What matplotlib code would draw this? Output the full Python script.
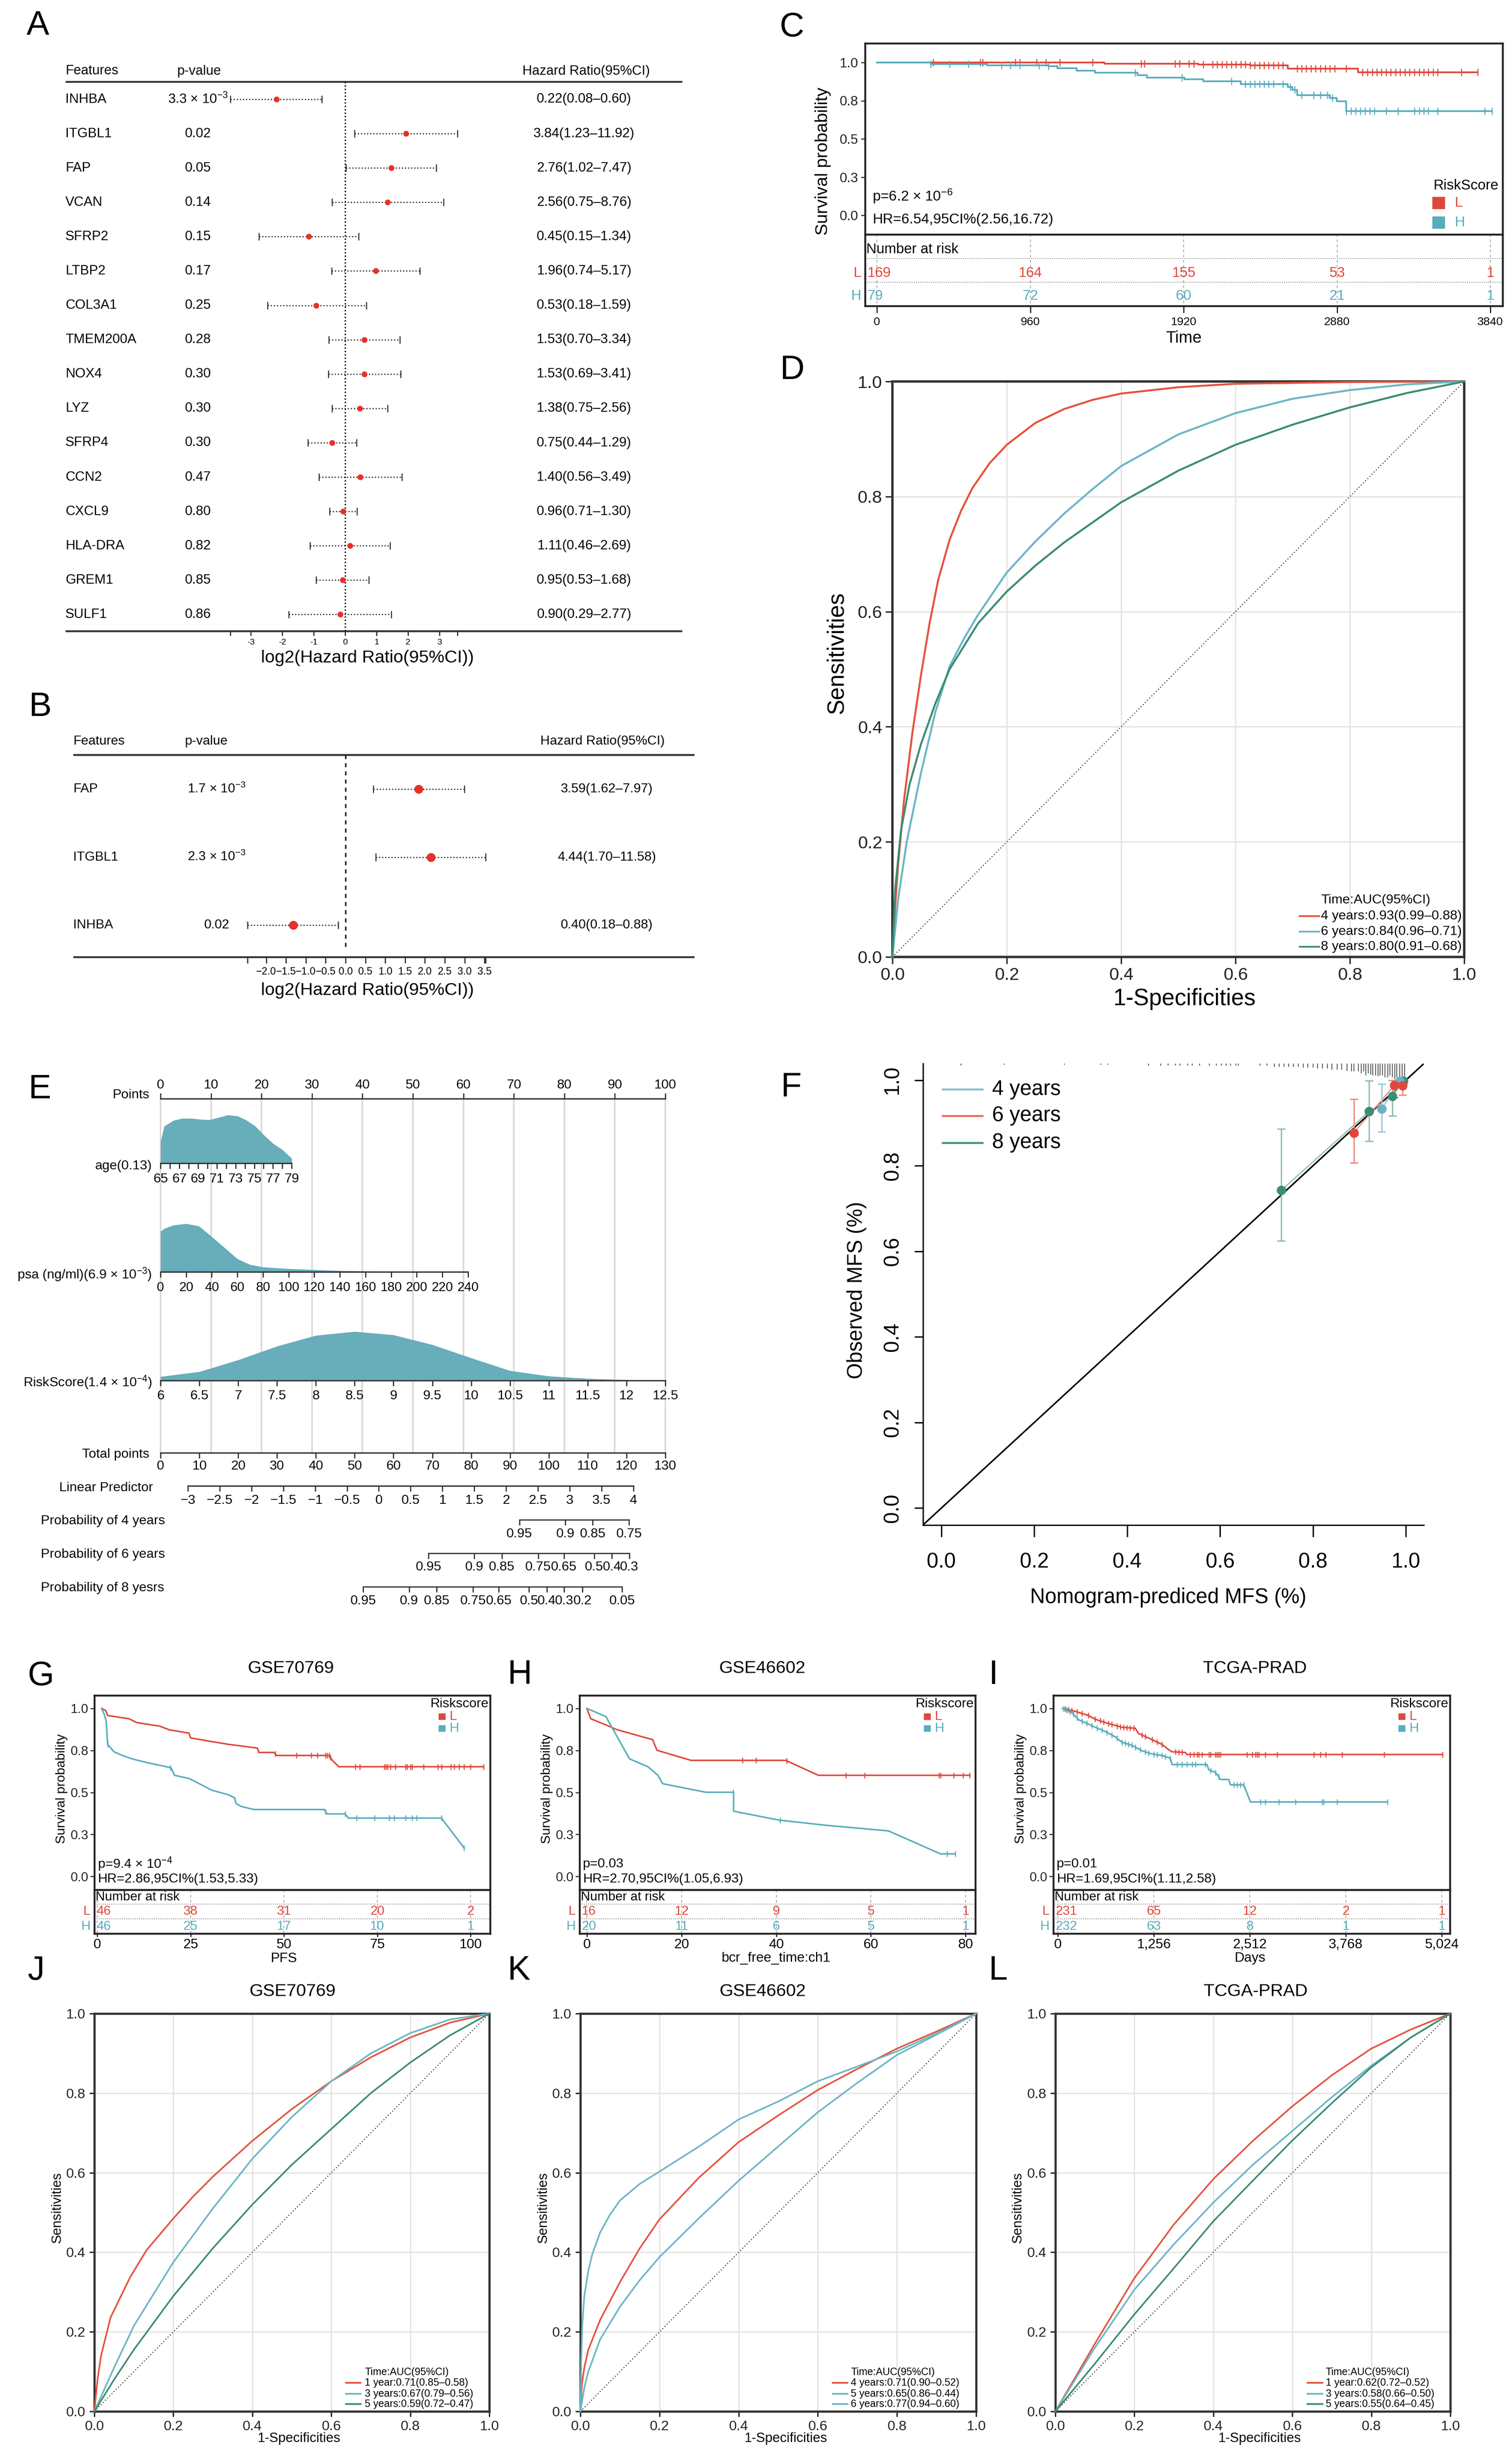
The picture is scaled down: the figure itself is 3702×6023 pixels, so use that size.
import numpy as np
import matplotlib
matplotlib.use("Agg")
import matplotlib.pyplot as plt
from matplotlib.patches import Rectangle
from matplotlib.lines import Line2D

W, H, DPI = 3702, 6023, 300

plt.rcParams["font.family"] = ["Liberation Sans", "DejaVu Sans"]
plt.rcParams["mathtext.fontset"] = "custom"
plt.rcParams["mathtext.rm"] = "Liberation Sans"
plt.rcParams["mathtext.it"] = "Liberation Sans:italic"
plt.rcParams["mathtext.bf"] = "Liberation Sans:bold"

RED = "#E0473C"
TEAL = "#58ADBD"
ROC_RED = "#E5533F"
ROC_BLUE = "#6BB6C6"
ROC_GREEN = "#3B8C73"
DOT_RED = "#E8302B"
DENS = "#67ADBA"
DARK = "#333333"

# ---------------- A: univariate cox ----------------
genes_a = ["INHBA", "ITGBL1", "FAP", "VCAN", "SFRP2", "LTBP2", "COL3A1", "TMEM200A",
           "NOX4", "LYZ", "SFRP4", "CCN2", "CXCL9", "HLA-DRA", "GREM1", "SULF1"]
pval_a = ["3.3 $\\times$ 10$^{-3}$", "0.02", "0.05", "0.14", "0.15", "0.17", "0.25", "0.28",
          "0.30", "0.30", "0.30", "0.47", "0.80", "0.82", "0.85", "0.86"]
hr_a = [0.22, 3.84, 2.76, 2.56, 0.45, 1.96, 0.53, 1.53, 1.53, 1.38, 0.75, 1.40, 0.96, 1.11, 0.95, 0.90]
lo_a = [0.08, 1.23, 1.02, 0.75, 0.15, 0.74, 0.18, 0.70, 0.69, 0.75, 0.44, 0.56, 0.71, 0.46, 0.53, 0.29]
hi_a = [0.60, 11.92, 7.47, 8.76, 1.34, 5.17, 1.59, 3.34, 3.41, 2.56, 1.29, 3.49, 1.30, 2.69, 1.68, 2.77]
ticks_a = [-3, -2, -1, 0, 1, 2, 3]

# ---------------- B: multivariate cox ----------------
genes_b = ["FAP", "ITGBL1", "INHBA"]
pval_b = ["1.7 $\\times$ 10$^{-3}$", "2.3 $\\times$ 10$^{-3}$", "0.02"]
hr_b = [3.59, 4.44, 0.40]
lo_b = [1.62, 1.70, 0.18]
hi_b = [7.97, 11.58, 0.88]
ticks_b = [-2.0, -1.5, -1.0, -0.5, 0.0, 0.5, 1.0, 1.5, 2.0, 2.5, 3.0, 3.5]

# ---------------- C: KM training set ----------------
c_L_t = [0, 1425, 2013, 2336, 2571, 3012]
c_L_s = [1.0, 0.993, 0.986, 0.980, 0.959, 0.936]
c_L_cens = [353, 646, 661, 867, 896, 999, 1058, 1146, 1351, 1654, 1675, 1866, 1895, 1954, 1983,
            2042, 2101, 2130, 2160, 2189, 2218, 2248, 2277, 2306, 2336, 2365, 2395, 2424, 2453,
            2483, 2512, 2541, 2630, 2659, 2688, 2718, 2747, 2776, 2806, 2835, 2865, 2938, 3041,
            3070, 3100, 3129, 3158, 3188, 3217, 3246, 3276, 3305, 3335, 3364, 3394, 3423, 3452,
            3482, 3511, 3658, 3761]
c_H_t = [0, 338, 690, 1073, 1131, 1249, 1366, 1631, 1689, 1924, 2042, 2277, 2571, 2600, 2630,
         2835, 2879, 2938]
c_H_s = [1.0, 0.990, 0.982, 0.975, 0.962, 0.947, 0.932, 0.918, 0.902, 0.891, 0.877, 0.859, 0.840,
         0.820, 0.785, 0.768, 0.747, 0.683]
c_H_cens = [338, 455, 573, 779, 837, 896, 1014, 1073, 1616, 1910, 2218, 2306, 2336, 2365, 2395,
            2424, 2453, 2483, 2541, 2586, 2615, 2659, 2733, 2776, 2820, 2850, 2938, 2968, 2997,
            3026, 3056, 3085, 3115, 3188, 3261, 3364, 3394, 3423, 3452, 3511, 3805, 3849]
c_times = [0, 960, 1920, 2880, 3840]
c_risk_L = [169, 164, 155, 53, 1]
c_risk_H = [79, 72, 60, 21, 1]

# ---------------- D: time ROC ----------------
d_fpr_4 = [0, 0.005, 0.01, 0.02, 0.035, 0.05, 0.065, 0.08, 0.1, 0.12, 0.14, 0.17, 0.2, 0.25,
           0.3, 0.35, 0.4, 0.5, 0.6, 0.8, 1.0]
d_tpr_4 = [0, 0.09, 0.16, 0.27, 0.39, 0.49, 0.58, 0.655, 0.725, 0.775, 0.815, 0.858, 0.89,
           0.928, 0.952, 0.968, 0.979, 0.99, 0.996, 0.999, 1.0]
d_fpr_6 = [0, 0.01, 0.025, 0.05, 0.075, 0.1, 0.125, 0.15, 0.2, 0.25, 0.3, 0.35, 0.4, 0.5, 0.6,
           0.7, 0.8, 0.9, 1.0]
d_tpr_6 = [0, 0.1, 0.2, 0.32, 0.425, 0.505, 0.553, 0.595, 0.668, 0.722, 0.77, 0.813, 0.853,
           0.908, 0.945, 0.97, 0.985, 0.995, 1.0]
d_fpr_8 = [0, 0.005, 0.015, 0.03, 0.05, 0.075, 0.1, 0.15, 0.2, 0.25, 0.3, 0.4, 0.5, 0.6, 0.7,
           0.8, 0.9, 1.0]
d_tpr_8 = [0, 0.12, 0.22, 0.3, 0.37, 0.44, 0.5, 0.58, 0.635, 0.68, 0.72, 0.79, 0.845, 0.89,
           0.925, 0.955, 0.98, 1.0]
d_labels = ["4 years:0.93(0.99\u20130.88)", "6 years:0.84(0.96\u20130.71)", "8 years:0.80(0.91\u20130.68)"]

# ---------------- E: nomogram ----------------
points_ticks = [0, 10, 20, 30, 40, 50, 60, 70, 80, 90, 100]
age_ticks = [65, 66, 67, 68, 69, 70, 71, 72, 73, 74, 75, 76, 77, 78, 79]
age_labels = [65, 67, 69, 71, 73, 75, 77, 79]
age_vals = [65.0, 65.4, 66.4, 67.3, 68.3, 69.3, 70.2, 71.2, 72.2, 73.2, 74.1, 75.1, 76.1, 77.0, 78.0, 79.0]
age_dens = [0.45, 0.77, 0.89, 0.93, 0.93, 0.91, 0.90, 0.95, 1.0, 0.98, 0.90, 0.77, 0.57, 0.41, 0.28, 0.10]
psa_ticks = [0, 20, 40, 60, 80, 100, 120, 140, 160, 180, 200, 220, 240]
psa_vals = [0, 3, 10, 20, 30, 40, 50, 60, 70, 80, 100, 120, 140, 160, 200, 240]
psa_dens = [0.84, 0.9, 0.97, 1.0, 0.95, 0.73, 0.5, 0.27, 0.15, 0.1, 0.065, 0.045, 0.025, 0.015, 0.005, 0.0]
rs_ticks = [6, 6.5, 7, 7.5, 8, 8.5, 9, 9.5, 10, 10.5, 11, 11.5, 12, 12.5]
rs_vals = [6.0, 6.5, 7.0, 7.5, 8.0, 8.5, 9.0, 9.5, 10.0, 10.5, 11.0, 11.5, 12.0, 12.5]
rs_dens = [0.08, 0.18, 0.42, 0.70, 0.92, 1.0, 0.93, 0.73, 0.46, 0.2, 0.09, 0.04, 0.015, 0.0]
total_ticks = [0, 10, 20, 30, 40, 50, 60, 70, 80, 90, 100, 110, 120, 130]
lp_ticks = [-3, -2.5, -2, -1.5, -1, -0.5, 0, 0.5, 1, 1.5, 2, 2.5, 3, 3.5, 4]
prob4_ticks = [0.95, 0.9, 0.85, 0.75]
prob6_ticks = [0.95, 0.9, 0.85, 0.75, 0.65, 0.5, 0.4, 0.3]
prob8_ticks = [0.95, 0.9, 0.85, 0.75, 0.65, 0.5, 0.4, 0.3, 0.2, 0.05]
base_loglog = {4: -5.18, 6: -3.75, 8: -2.726}

# ---------------- F: calibration ----------------
cal_groups = ["4 years", "6 years", "8 years"]
cal_pred = [[0.948, 0.987], [0.888, 0.975, 0.993], [0.732, 0.921, 0.971, 0.995]]
cal_obs = [[0.933, 0.998], [0.877, 0.988, 0.987], [0.743, 0.927, 0.963, 0.998]]
cal_lo = [[0.880, 0.990], [0.807, 0.960, 0.965], [0.625, 0.858, 0.917, 0.990]]
cal_hi = [[0.991, 1.0], [0.956, 1.0, 1.0], [0.886, 0.999, 1.0, 1.0]]
rug_x = [0.042, 0.135, 0.265, 0.343, 0.358, 0.446, 0.472, 0.488, 0.504, 0.514, 0.530, 0.540,
         0.556, 0.577, 0.592, 0.603, 0.613, 0.623, 0.634, 0.639, 0.686, 0.701, 0.717, 0.727,
         0.738, 0.748, 0.758, 0.769, 0.779, 0.789, 0.800, 0.810, 0.821, 0.831, 0.841, 0.852,
         0.862, 0.873, 0.883, 0.888, 0.898, 0.904, 0.909, 0.914, 0.919, 0.924, 0.929, 0.935,
         0.940, 0.945, 0.950, 0.955, 0.961, 0.966, 0.971, 0.976, 0.981, 0.987, 0.992, 0.997]
rug_h = [5, 3, 3, 3, 3, 5, 5, 5, 5, 5, 5, 5, 5, 5, 5, 5, 5, 5, 5, 5, 5, 5, 8, 8, 8, 8, 8, 8,
         10, 10, 10, 12, 12, 12, 15, 15, 15, 18, 19, 19, 19, 24, 19, 29, 24, 27, 29, 29, 31, 29,
         29, 34, 34, 29, 34, 38, 34, 38, 43, 48]

# ---------------- G/H/I: validation KM ----------------
g_L_x = [1.2, 2.3, 2.8, 8.5, 10.6, 16.7, 19.3, 24.6, 25.0, 29.8, 35.0, 42.9, 43.3, 47.3, 48.1,
         62.1, 63.0, 64.7, 103.5]
g_L_y = [1.0, 0.987, 0.958, 0.939, 0.916, 0.895, 0.873, 0.853, 0.825, 0.806, 0.787, 0.764, 0.738,
         0.738, 0.720, 0.720, 0.691, 0.653, 0.653]
g_L_cens = [47.7, 53.4, 57.3, 59.0, 61.2, 61.6, 62.1, 62.5, 69.1, 70.4, 76.9, 77.3, 77.8, 78.6,
            79.9, 82.6, 83.0, 83.9, 84.3, 87.4, 91.3, 92.2, 94.8, 95.6, 96.9, 98.3, 100.0, 103.5]
g_H_x = [1.2, 1.9, 2.4, 2.8, 4.5, 7.2, 9.8, 14.1, 19.4, 19.8, 20.7, 24.6, 26.3, 30.7, 35.0, 36.8,
         37.2, 38.5, 42.0, 60.8, 61.6, 66.4, 67.3, 92.2, 98.3]
g_H_y = [1.0, 0.964, 0.926, 0.786, 0.742, 0.716, 0.697, 0.674, 0.649, 0.646, 0.602, 0.583, 0.564,
         0.513, 0.487, 0.468, 0.434, 0.417, 0.398, 0.398, 0.372, 0.372, 0.347, 0.347, 0.169]
g_H_cens = [2.8, 19.6, 61.2, 66.4, 69.5, 74.3, 78.2, 79.5, 82.6, 84.3, 85.6, 92.2, 98.3]
g_times = [0, 25, 50, 75, 100]
g_risk_L = [46, 38, 31, 20, 2]
g_risk_H = [46, 25, 17, 10, 1]

h_L_x = [0, 0.8, 4.1, 6.2, 13.9, 14.8, 22.0, 42.0, 48.9, 80.9]
h_L_y = [1.0, 0.939, 0.901, 0.875, 0.814, 0.751, 0.691, 0.691, 0.602, 0.602]
h_L_cens = [32.9, 35.7, 42.2, 54.7, 58.7, 74.4, 74.7, 77.5, 79.5, 80.9]
h_H_x = [0, 4.0, 9.0, 12.9, 15.0, 16.0, 25.1, 31.0, 31.0, 40.6, 50.9, 63.7, 74.7, 77.8]
h_H_y = [1.0, 0.952, 0.700, 0.653, 0.602, 0.552, 0.501, 0.501, 0.388, 0.335, 0.303, 0.271, 0.134, 0.134]
h_H_cens = [30.9, 40.8, 76.1, 77.8]
h_times = [0, 20, 40, 60, 80]
h_risk_L = [16, 12, 9, 5, 1]
h_risk_H = [20, 11, 6, 5, 1]

i_L_x = [61, 227, 402, 489, 620, 839, 1014, 1057, 1188, 1276, 1363, 1451, 1494, 1669, 1691, 5033]
i_L_y = [1.0, 0.983, 0.958, 0.936, 0.916, 0.888, 0.882, 0.850, 0.824, 0.805, 0.786, 0.754, 0.742,
         0.738, 0.726, 0.726]
i_L_cens = [96, 140, 183, 249, 315, 402, 489, 555, 598, 664, 708, 773, 817, 861, 904, 948, 992,
            1101, 1145, 1232, 1297, 1363, 1538, 1581, 1625, 1734, 1778, 1822, 1844, 1887, 1975,
            1997, 2062, 2084, 2106, 2128, 2477, 2543, 2586, 2608, 2630, 2717, 2870, 3351, 3438,
            3504, 3722, 4268, 5033]
i_H_x = [61, 183, 271, 402, 489, 620, 751, 839, 970, 1101, 1232, 1363, 1472, 1494, 1953, 1975,
         2062, 2106, 2128, 2237, 2259, 2433, 2477, 2521, 4312]
i_H_y = [1.0, 0.977, 0.933, 0.907, 0.888, 0.863, 0.831, 0.799, 0.780, 0.748, 0.729, 0.720, 0.704,
         0.666, 0.666, 0.634, 0.619, 0.593, 0.577, 0.577, 0.545, 0.545, 0.494, 0.443, 0.443]
i_H_cens = [74, 118, 162, 205, 249, 315, 380, 446, 511, 577, 642, 708, 773, 839, 882, 926, 970,
            1014, 1079, 1145, 1188, 1254, 1297, 1363, 1407, 1472, 1560, 1625, 1691, 1756, 1800,
            1931, 1997, 2062, 2106, 2302, 2346, 2390, 2433, 2652, 2717, 2892, 3111, 3460, 3482,
            3657, 4312]
i_times = [0, 1256, 2512, 3768, 5024]
i_time_labels = ["0", "1,256", "2,512", "3,768", "5,024"]
i_risk_L = [231, 65, 12, 2, 1]
i_risk_H = [232, 63, 8, 1, 1]

# ---------------- J/K/L: validation ROC ----------------
j_fpr_1 = [0, 0.008, 0.017, 0.041, 0.091, 0.132, 0.2, 0.25, 0.3, 0.4, 0.5, 0.6, 0.7, 0.8, 0.9, 1.0]
j_tpr_1 = [0, 0.08, 0.14, 0.236, 0.338, 0.405, 0.485, 0.54, 0.59, 0.68, 0.76, 0.83, 0.89, 0.94, 0.977, 1.0]
j_fpr_3 = [0, 0.05, 0.1, 0.2, 0.3, 0.4, 0.5, 0.6, 0.7, 0.8, 0.9, 1.0]
j_tpr_3 = [0, 0.11, 0.215, 0.375, 0.51, 0.635, 0.74, 0.83, 0.9, 0.951, 0.985, 1.0]
j_fpr_5 = [0, 0.05, 0.1, 0.2, 0.3, 0.4, 0.5, 0.6, 0.7, 0.8, 0.9, 1.0]
j_tpr_5 = [0, 0.08, 0.155, 0.29, 0.41, 0.52, 0.62, 0.71, 0.80, 0.877, 0.945, 1.0]
j_labels = ["1 year:0.71(0.85\u20130.58)", "3 years:0.67(0.79\u20130.56)", "5 years:0.59(0.72\u20130.47)"]

k_fpr_4 = [0, 0.004, 0.01, 0.02, 0.05, 0.1, 0.15, 0.2, 0.3, 0.4, 0.5, 0.6, 0.7, 0.8, 0.9, 1.0]
k_tpr_4 = [0, 0.07, 0.11, 0.155, 0.23, 0.325, 0.41, 0.483, 0.588, 0.677, 0.744, 0.808, 0.861, 0.912, 0.955, 1.0]
k_fpr_5 = [0, 0.01, 0.02, 0.05, 0.1, 0.15, 0.2, 0.3, 0.4, 0.5, 0.6, 0.7, 0.8, 0.9, 1.0]
k_tpr_5 = [0, 0.06, 0.1, 0.181, 0.263, 0.33, 0.388, 0.486, 0.58, 0.666, 0.752, 0.826, 0.896, 0.947, 1.0]
k_fpr_6 = [0, 0.002, 0.005, 0.01, 0.02, 0.03, 0.05, 0.075, 0.1, 0.15, 0.2, 0.3, 0.4, 0.5, 0.6, 0.7,
           0.8, 0.9, 1.0]
k_tpr_6 = [0, 0.12, 0.22, 0.29, 0.353, 0.395, 0.45, 0.495, 0.53, 0.572, 0.603, 0.666, 0.734, 0.779,
           0.83, 0.867, 0.905, 0.95, 1.0]
k_labels = ["4 years:0.71(0.90\u20130.52)", "5 years:0.65(0.86\u20130.44)", "6 years:0.77(0.94\u20130.60)"]

l_fpr = [0, 0.1, 0.2, 0.3, 0.4, 0.5, 0.6, 0.7, 0.8, 0.9, 1.0]
l_tpr_1 = [0, 0.17, 0.335, 0.47, 0.584, 0.68, 0.767, 0.845, 0.912, 0.96, 1.0]
l_tpr_3 = [0, 0.16, 0.306, 0.42, 0.525, 0.62, 0.705, 0.79, 0.869, 0.94, 1.0]
l_tpr_5 = [0, 0.12, 0.244, 0.36, 0.478, 0.58, 0.681, 0.775, 0.865, 0.94, 1.0]
l_labels = ["1 year:0.62(0.72\u20130.52)", "3 years:0.58(0.66\u20130.50)", "5 years:0.55(0.64\u20130.45)"]


fig = plt.figure(figsize=(W / DPI, H / DPI), dpi=DPI)


def add_ax(x0, y0, x1, y1):
    return fig.add_axes([x0 / W, 1 - y1 / H, (x1 - x0) / W, (y1 - y0) / H])


def ftext(x, y, s, **kw):
    kw.setdefault("va", "center")
    fig.text(x / W, 1 - y / H, s, **kw)


def frect(x0, y0, x1, y1, color):
    fig.add_artist(Rectangle((x0 / W, 1 - y1 / H), (x1 - x0) / W, (y1 - y0) / H,
                             transform=fig.transFigure, facecolor=color, edgecolor="none"))


def fline(x0, x1, y, color, lw):
    fig.add_artist(Line2D([x0 / W, x1 / W], [1 - y / H] * 2, transform=fig.transFigure,
                          color=color, lw=lw))


# panel letters
for s, x, y in [("A", 65, 63), ("B", 70, 1731), ("C", 1909, 67), ("D", 1909, 906),
                ("E", 69, 2667), ("F", 1911, 2662), ("G", 68, 4104), ("H", 1242, 4101),
                ("I", 2420, 4101), ("J", 68, 4825), ("K", 1242, 4825), ("L", 2420, 4825)]:
    ftext(x, y, s, fontsize=20, ha="left")


# ================= forest plots =================
def forest(box, zero, unit, row0, step, genes, pvals, hr, lo, hi, ticks, tick_lbls,
           cols, ys, fs, tick_fs, ms, cap, zero_ls):
    x0, y0, x1, y1 = box
    ax = add_ax(x0, y0, x1, y1)
    fx = lambda p: (p - zero) / unit
    fy = lambda p: (p - row0) / step
    ax.set_xlim(fx(x0), fx(x1))
    ax.set_ylim(fy(y1), fy(y0))
    ax.axis("off")
    ax.text(fx(cols["gene"]), fy(ys["head"]), "Features", fontsize=fs, ha="left", va="center")
    ax.text(fx(cols["phead"]), fy(ys["head"]), "p-value", fontsize=fs, ha="left", va="center")
    ax.text(fx(cols["hrhead"]), fy(ys["head"]), "Hazard Ratio(95%CI)", fontsize=fs,
            ha="center", va="center")
    for yl in (ys["hline"], ys["bline"]):
        ax.plot([fx(cols["gene"]), fx(cols["line1"])], [fy(yl)] * 2, color=DARK, lw=1.1,
                solid_capstyle="butt")
    ax.plot([0, 0], [fy(ys["hline"]), fy(ys["zend"])], color="k", lw=0.8, ls=zero_ls)
    for i, (g, p, h, l, u) in enumerate(zip(genes, pvals, hr, lo, hi)):
        ax.text(fx(cols["gene"]), i, g, fontsize=fs, ha="left", va="center")
        ax.text(fx(cols["p"]), i, p, fontsize=fs, ha="center", va="center")
        ax.text(fx(cols["hr"]), i, f"{h:.2f}({l:.2f}\u2013{u:.2f})", fontsize=fs,
                ha="center", va="center")
        ax.plot([np.log2(l), np.log2(u)], [i, i], color="#2b2b2b", lw=0.7, ls=(0, (1, 1.6)))
        for e in (l, u):
            ax.plot([np.log2(e)] * 2, [i - cap, i + cap], color="#2b2b2b", lw=0.6)
        ax.plot(np.log2(h), i, "o", color=DOT_RED, ms=ms, mec="none", zorder=5)
    ends = [np.log2(min(lo)), np.log2(max(hi))]
    for t in list(ticks) + ends:
        ax.plot([t, t], [fy(ys["bline"]), fy(ys["bline"] + ys["tlen"])], color=DARK, lw=0.7)
    for t, s in zip(ticks, tick_lbls):
        ax.text(t, fy(ys["tlab"]), s, fontsize=tick_fs, ha="center", va="center")
    ax.text(fx(cols["xlab"]), fy(ys["xlab"]), "log2(Hazard Ratio(95%CI))", fontsize=10.4,
            ha="center", va="center")


forest((150, 120, 1700, 1650), 845, 77.0, 243, 84.1, genes_a, pval_a, hr_a, lo_a, hi_a,
       ticks_a, [str(t) for t in ticks_a],
       dict(gene=160, phead=434, p=485, hr=1430, hrhead=1435, line1=1670, xlab=900),
       dict(head=174, hline=200, bline=1545, zend=1545, tlen=10, tlab=1572, xlab=1611),
       7.9, 5, 3.4, 0.095, (0, (1, 1.5)))

forest((170, 1690, 1710, 2460), 846, 97.2, 1932, 166.5, genes_b, pval_b, hr_b, lo_b, hi_b,
       ticks_b, [f"{t:.1f}".replace("-", "\u2212") for t in ticks_b],
       dict(gene=179, phead=453, p=531, hr=1486, hrhead=1475, line1=1700, xlab=900),
       dict(head=1815, hline=1848, bline=2343, zend=2328, tlen=14, tlab=2379, xlab=2425),
       7.7, 6, 5.2, 0.05, (0, (3, 3)))


# ================= Kaplan-Meier panels =================
def km_panel(x0, x1, t0_px, t_unit, curves, times, time_lbls, n_l, n_h, ptxt, hrtxt,
             leg_title, xlab, L, title=None):
    sy0, sy1, ty1 = L["sy0"], L["sy1"], L["ty1"]
    ax = add_ax(x0, sy0, x1, sy1)
    tx = lambda p: (p - t0_px) / t_unit
    sv = lambda p: (L["zero"] - p) / (L["zero"] - L["one"])
    ax.set_xlim(tx(x0), tx(x1))
    ax.set_ylim(sv(sy1), sv(sy0))
    for t, s, cens, col, step in curves:
        t = np.asarray(t, float)
        s = np.asarray(s, float)
        c = np.asarray(cens, float)
        if step:
            ax.step(np.append(t, c.max()), np.append(s, s[-1]), where="post", color=col,
                    lw=L["lw"])
            cy = s[np.searchsorted(t, c, side="right") - 1]
        else:
            ax.plot(t, s, color=col, lw=L["lw"])
            cy = np.interp(c, t, s)
        ax.plot(c, cy, ls="none", marker="|", ms=L["cms"], mew=0.6, color=col)
    ax.set_yticks([0, 0.25, 0.5, 0.75, 1.0])
    ax.set_yticklabels(["0.0", "0.3", "0.5", "0.8", "1.0"], fontsize=L["fs_tick"])
    ax.tick_params(axis="x", bottom=False, labelbottom=False)
    ax.tick_params(axis="y", length=2.5, width=0.6, pad=L["ypad"], colors="#222222")
    for sp in ax.spines.values():
        sp.set_linewidth(1.1)
        sp.set_color("#222222")

    ar = add_ax(x0, sy1, x1, ty1)
    ar.set_xlim(ax.get_xlim())
    ar.set_ylim(ty1, sy1)
    ar.set_yticks([])
    ar.set_xticks(times)
    ar.set_xticklabels(time_lbls, fontsize=L["fs_xt"])
    ar.tick_params(axis="x", length=L["xtl"], width=0.6, pad=L["xpad"])
    for sp in ar.spines.values():
        sp.set_linewidth(1.1)
        sp.set_color("#222222")
    ar.hlines(L["dots"], *ar.get_xlim(), colors="#8a8a8a", linestyles=(0, (1, 1.5)), lw=0.5)
    ar.vlines(times, sy1, ty1, colors="#aaaaaa", linestyles=(0, (3, 3)), lw=0.5)
    first_x = tx(x0 + 5)
    for k, (t, a, b) in enumerate(zip(times, n_l, n_h)):
        xx, ha = (first_x, "left") if k == 0 else (t, "center")
        ar.text(xx, L["rowL"], str(a), color=RED, ha=ha, va="center", fontsize=L["fs_num"])
        ar.text(xx, L["rowH"], str(b), color=TEAL, ha=ha, va="center", fontsize=L["fs_num"])

    ftext(x0 + 3, L["nar"], "Number at risk", fontsize=L["fs_num"], ha="left")
    ftext(x0 - 10, L["rowL"], "L", color=RED, fontsize=L["fs_num"], ha="right")
    ftext(x0 - 10, L["rowH"], "H", color=TEAL, fontsize=L["fs_num"], ha="right")
    ftext(x0 + L["tdx"], L["p_y"], ptxt, fontsize=L["fs_txt"], ha="left")
    ftext(x0 + L["tdx"], L["hr_y"], hrtxt, fontsize=L["fs_txt"], ha="left")
    ftext(x0 - L["ylab_dx"], L["ylab_y"], "Survival probability", fontsize=L["fs_ylab"],
          rotation=90, ha="center")
    ftext(x1 - L["leg_t"], L["leg_ty"], leg_title, fontsize=L["fs_txt"], ha="left")
    frect(x1 - L["sq0"], L["sqL"][0], x1 - L["sq1"], L["sqL"][1], RED)
    frect(x1 - L["sq0"], L["sqH"][0], x1 - L["sq1"], L["sqH"][1], TEAL)
    ftext(x1 - L["lab"], (L["sqL"][0] + L["sqL"][1]) / 2, "L", color=RED,
          fontsize=L["fs_txt"], ha="left")
    ftext(x1 - L["lab"], (L["sqH"][0] + L["sqH"][1]) / 2, "H", color=TEAL,
          fontsize=L["fs_txt"], ha="left")
    mid = t0_px + (times[0] + times[-1]) / 2 * t_unit
    ftext(mid, L["xlab_y"], xlab, fontsize=L["fs_xlab"], ha="center")
    if title:
        ftext(title[0], title[1], title[2], fontsize=10.4, ha="center")


lay_c = dict(sy0=106, sy1=574, ty1=749, one=153, zero=527, lw=1.0, cms=4.2, fs_tick=7.9,
             ypad=1.5, fs_xt=6.8, xtl=4, xpad=2.5, dots=[633, 691], rowL=668, rowH=724,
             nar=610, fs_num=8.3, tdx=18, p_y=480, hr_y=538, fs_txt=8.4, ylab_dx=103,
             ylab_y=395, fs_ylab=10.4, leg_t=170, leg_ty=454, sq0=172, sq1=141,
             sqL=(482, 512), sqH=(530, 560), lab=118, xlab_y=828, fs_xlab=9.7)
km_panel(2118, 3679, 2147, (3649 - 2147) / 3840,
         [(c_L_t, c_L_s, c_L_cens, RED, True), (c_H_t, c_H_s, c_H_cens, TEAL, True)],
         c_times, [str(t) for t in c_times], c_risk_L, c_risk_H,
         "p=6.2 $\\times$ 10$^{-6}$", "HR=6.54,95CI%(2.56,16.72)", "RiskScore", "Time", lay_c)

lay_v = dict(sy0=4151, sy1=4627, ty1=4734, one=4183, zero=4594, lw=0.9, cms=3.4, fs_tick=7.6,
             ypad=1.0, fs_xt=8, xtl=2, xpad=0.8, dots=[4662, 4698], rowL=4680, rowH=4717,
             nar=4645, fs_num=7.6, tdx=8, p_y=4564, hr_y=4601, fs_txt=7.8, ylab_dx=80,
             ylab_y=4380, fs_ylab=7.7, leg_t=147, leg_ty=4172, sq0=126, sq1=109,
             sqL=(4195, 4211), sqH=(4224, 4240), lab=100, xlab_y=4795, fs_xlab=8)
km_panel(231, 1200, 238, (1152 - 238) / 100,
         [(g_L_x, g_L_y, g_L_cens, RED, False), (g_H_x, g_H_y, g_H_cens, TEAL, False)],
         g_times, [str(t) for t in g_times], g_risk_L, g_risk_H,
         "p=9.4 $\\times$ 10$^{-4}$", "HR=2.86,95CI%(1.53,5.33)", "Riskscore", "PFS", lay_v,
         title=(713, 4085, "GSE70769"))
km_panel(1419, 2388, 1437, (2364 - 1437) / 80,
         [(h_L_x, h_L_y, h_L_cens, RED, False), (h_H_x, h_H_y, h_H_cens, TEAL, False)],
         h_times, [str(t) for t in h_times], h_risk_L, h_risk_H,
         "p=0.03", "HR=2.70,95CI%(1.05,6.93)", "Riskscore", "bcr_free_time:ch1", lay_v,
         title=(1867, 4085, "GSE46602"))
km_panel(2579, 3550, 2590, (3530 - 2590) / 5024,
         [(i_L_x, i_L_y, i_L_cens, RED, False), (i_H_x, i_H_y, i_H_cens, TEAL, False)],
         i_times, i_time_labels, i_risk_L, i_risk_H,
         "p=0.01", "HR=1.69,95CI%(1.11,2.58)", "Riskscore", "Days", lay_v,
         title=(3072, 4085, "TCGA-PRAD"))


# ================= ROC panels =================
def roc_panel(box, fprs, tprs, cols, labels, P):
    x0, y0, x1, y1 = box
    ax = add_ax(x0, y0, x1, y1)
    ax.set_xlim(0, 1)
    ax.set_ylim(0, 1)
    grid = [0.2, 0.4, 0.6, 0.8]
    ax.vlines(grid, 0, 1, colors="#E6E0E0", lw=0.7, zorder=0)
    ax.hlines(grid, 0, 1, colors="#E6E0E0", lw=0.7, zorder=0)
    ax.plot([0, 1], [0, 1], color="#3a3a3a", lw=0.6, ls=(0, (1, 2)))
    for f, t, c in zip(fprs, tprs, cols):
        ax.plot(f, t, color=c, lw=P["lw"], clip_on=False, zorder=3,
                solid_joinstyle="round")
    tk = [0, 0.2, 0.4, 0.6, 0.8, 1.0]
    ax.set_xticks(tk)
    ax.set_yticks(tk)
    ax.set_xticklabels([f"{v:.1f}" for v in tk])
    ax.set_yticklabels([f"{v:.1f}" for v in tk])
    ax.tick_params(length=P["tl"], width=0.8, labelsize=P["fs_tick"], pad=P["pad"],
                   colors="#222222")
    for sp in ax.spines.values():
        sp.set_linewidth(P["spine"])
        sp.set_color("#333333")
    ftext(P["xlab"][0], P["xlab"][1], "1-Specificities", fontsize=P["fs_lab"], ha="center")
    ftext(P["ylab"][0], P["ylab"][1], "Sensitivities", fontsize=P["fs_lab"], ha="center",
          rotation=90)
    lx0, lx1, tx = P["leg_x"]
    ftext(tx, P["leg_y"][0], "Time:AUC(95%CI)", fontsize=P["fs_leg"], ha="left")
    for yy, c, lab in zip(P["leg_y"][1:], cols, labels):
        fline(lx0, lx1, yy, c, 1.0)
        ftext(tx, yy, lab, fontsize=P["fs_leg"], ha="left")
    if "title" in P:
        ftext(P["title"][0], P["title"][1], P["title"][2], fontsize=10.4, ha="center")


roc_panel((2185, 934, 3585, 2343), [d_fpr_4, d_fpr_6, d_fpr_8], [d_tpr_4, d_tpr_6, d_tpr_8],
          [ROC_RED, ROC_BLUE, ROC_GREEN], d_labels,
          dict(lw=1.15, tl=4, fs_tick=10.4, pad=2, spine=1.4, xlab=(2900, 2446),
               ylab=(2049, 1598), fs_lab=13.6, leg_x=(3182, 3230, 3234),
               leg_y=(2204, 2243, 2281, 2318), fs_leg=7.8))

small = dict(lw=0.95, tl=3, fs_tick=8.2, pad=2.2, spine=1.3, fs_lab=7.9, fs_leg=6.0,
             leg_y=(5808, 5834, 5861, 5886))
roc_panel((231, 4930, 1198, 5904), [j_fpr_1, j_fpr_3, j_fpr_5], [j_tpr_1, j_tpr_3, j_tpr_5],
          [ROC_RED, ROC_BLUE, ROC_GREEN], j_labels,
          dict(small, xlab=(732, 5971), ylab=(140, 5405), leg_x=(847, 883, 893),
               title=(717, 4876, "GSE70769")))
roc_panel((1421, 4930, 2390, 5904), [k_fpr_4, k_fpr_5, k_fpr_6], [k_tpr_4, k_tpr_5, k_tpr_6],
          [ROC_RED, ROC_BLUE, ROC_BLUE], k_labels,
          dict(small, xlab=(1924, 5971), ylab=(1330, 5405), leg_x=(2039, 2075, 2083),
               title=(1868, 4876, "GSE46602")))
roc_panel((2584, 4930, 3551, 5904), [l_fpr, l_fpr, l_fpr], [l_tpr_1, l_tpr_3, l_tpr_5],
          [ROC_RED, ROC_BLUE, ROC_GREEN], l_labels,
          dict(small, xlab=(3084, 5971), ylab=(2492, 5405), leg_x=(3201, 3238, 3246),
               title=(3074, 4876, "TCGA-PRAD")))


# ================= E: nomogram =================
PT = (1629 - 393) / 100.0
axE = add_ax(0, 2600, 1750, 3960)
axE.set_xlim(-393 / PT, (1750 - 393) / PT)
axE.set_ylim(3960, 2600)
axE.axis("off")


def age_pts(v):
    return (v - 65) * 26.0 / 14


def psa_pts(v):
    return v * 60.9 / 240


def rs_pts(v):
    return (v - 6) * 100 / 6.5


def tot_pts(v):
    return v * 100 / 130


def lp_pts(v):
    return tot_pts(7.04 + (v + 3) * 16.39)


def prob_pts(p, yr):
    return lp_pts(np.log(-np.log(p)) - base_loglog[yr])


def nomo_axis(y, ticks, labels, fn, lab_y, up=False, tlen=12, fs=7.8, lw=0.8):
    xs = [fn(v) for v in ticks]
    axE.plot([min(xs), max(xs)], [y, y], color=DARK, lw=lw, zorder=3)
    d = -tlen if up else tlen
    for x in xs:
        axE.plot([x, x], [y, y + d], color=DARK, lw=0.7, zorder=3)
    for v in labels:
        axE.text(fn(v), lab_y, f"{v:g}".replace("-", "\u2212"), fontsize=fs, ha="center",
                 va="center")


for p in points_ticks:
    axE.plot([p, p], [2690, 3557], color="#DDD5D5", lw=0.9, zorder=0)

axE.fill_between([age_pts(v) for v in age_vals], 2848, 2848 - np.array(age_dens) * 118,
                 color=DENS, lw=0, zorder=2)
axE.fill_between([psa_pts(v) for v in psa_vals], 3114, 3114 - np.array(psa_dens) * 118,
                 color=DENS, lw=0, zorder=2)
axE.fill_between([rs_pts(v) for v in rs_vals], 3380, 3380 - np.array(rs_dens) * 120,
                 color=DENS, lw=0, zorder=2)

nomo_axis(2690, points_ticks, points_ticks, lambda v: v, 2657, up=True)
nomo_axis(2848, age_ticks, age_labels, age_pts, 2887)
nomo_axis(3114, psa_ticks, psa_ticks, psa_pts, 3153, fs=7.6)
nomo_axis(3380, rs_ticks, rs_ticks, rs_pts, 3418)
nomo_axis(3557, total_ticks, total_ticks, tot_pts, 3590)
nomo_axis(3638, lp_ticks, lp_ticks, lp_pts, 3674)
nomo_axis(3721, prob4_ticks, prob4_ticks, lambda p: prob_pts(p, 4), 3756, lw=0.7)
nomo_axis(3803, prob6_ticks, prob6_ticks, lambda p: prob_pts(p, 6), 3837, lw=0.7)
nomo_axis(3885, prob8_ticks, prob8_ticks, lambda p: prob_pts(p, 8), 3920, lw=0.7)

ftext(366, 2681, "Points", fontsize=7.8, ha="right")
ftext(372, 2855, "age(0.13)", fontsize=7.8, ha="right")
ftext(372, 3121, "psa (ng/ml)(6.9 $\\times$ 10$^{-3}$)", fontsize=7.8, ha="right")
ftext(372, 3385, "RiskScore(1.4 $\\times$ 10$^{-4}$)", fontsize=7.8, ha="right")
ftext(366, 3561, "Total points", fontsize=7.8, ha="right")
ftext(375, 3643, "Linear Predictor", fontsize=7.8, ha="right")
ftext(100, 3724, "Probability of 4 years", fontsize=7.8, ha="left")
ftext(100, 3806, "Probability of 6 years", fontsize=7.8, ha="left")
ftext(100, 3888, "Probability of 8 yesrs", fontsize=7.8, ha="left")


# ================= F: calibration =================
axF = add_ax(2260, 2604, 3486, 3734)
axF.set_xlim(-0.0396, 1.0387)
axF.set_ylim(-0.040, 1.039)
for s in ("top", "right"):
    axF.spines[s].set_visible(False)
for s in ("left", "bottom"):
    axF.spines[s].set_linewidth(0.8)
axF.plot([-0.04, 1.04], [-0.04, 1.04], color="k", lw=0.9)
axF.vlines(rug_x, 1.039 - np.array(rug_h) / 1047.0, 1.039, colors="#555555", lw=0.5)
cal_cols = ["#6FB0C6", "#E0473C", "#3A8E74"]
cal_ecols = ["#9ACAD8", "#EC8A7E", "#8CBFAD"]
for gi in (2, 0, 1):
    pr = np.array(cal_pred[gi])
    ob = np.array(cal_obs[gi])
    axF.plot(pr, ob, color=cal_ecols[gi], lw=0.7, zorder=3)
    axF.errorbar(pr, ob, yerr=[ob - np.array(cal_lo[gi]), np.array(cal_hi[gi]) - ob], fmt="o",
                 color=cal_cols[gi], ecolor=cal_ecols[gi], ms=5.5, mec="none", capsize=2.5,
                 elinewidth=0.8, capthick=0.8, zorder=4)
ftk = [0, 0.2, 0.4, 0.6, 0.8, 1.0]
axF.set_xticks(ftk)
axF.set_yticks(ftk)
axF.set_xticklabels([f"{v:.1f}" for v in ftk], fontsize=12.3)
axF.set_yticklabels([f"{v:.1f}" for v in ftk], fontsize=12.3, rotation=90, va="center")
axF.tick_params(axis="x", length=7, width=0.8, pad=9)
axF.tick_params(axis="y", length=5, width=0.8, pad=7)
ftext(2860, 3911, "Nomogram-prediced MFS (%)", fontsize=12.2, ha="center")
ftext(2098, 3159, "Observed MFS (%)", fontsize=12.2, ha="center", rotation=90)
for yy, c, lab in zip([2667, 2732, 2798], ["#8CC2D2", "#E8735F", "#4A9A80"], cal_groups):
    fline(2308, 2405, yy, c, 1.2)
    ftext(2429, yy, lab, fontsize=12.3, ha="left")

fig.savefig("out.png", dpi=DPI)
